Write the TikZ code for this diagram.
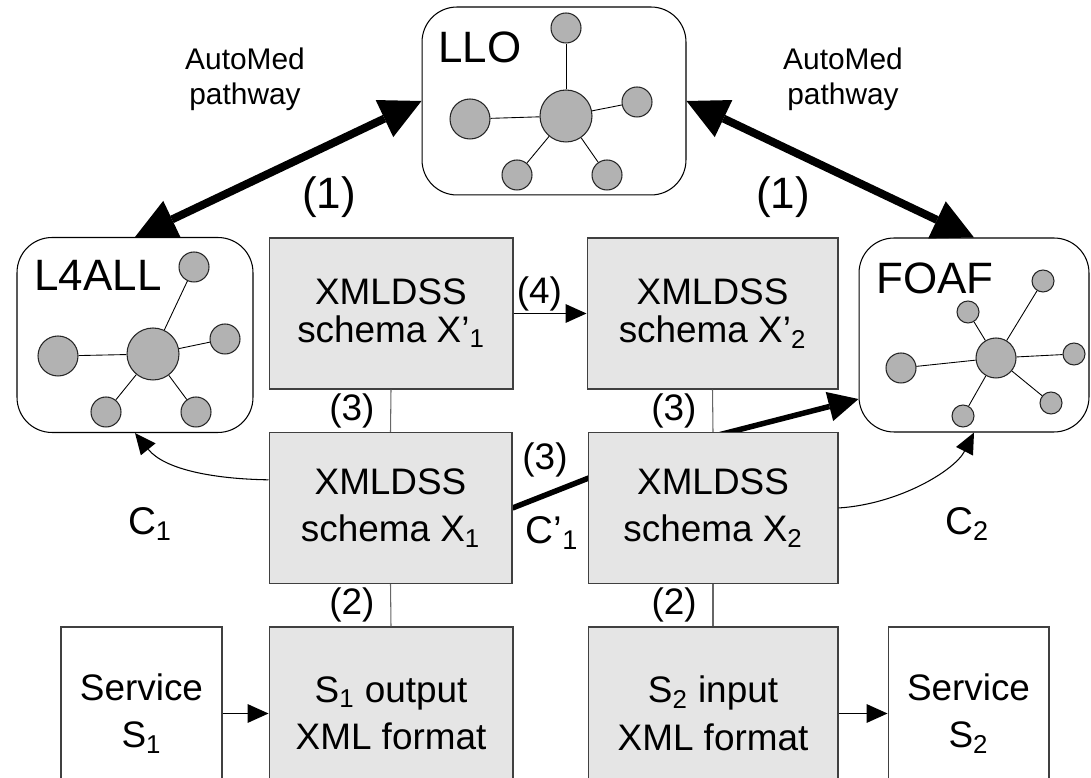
\documentclass[tikz,border=0pt]{standalone}
\usepackage{fontspec}
\setmainfont{Liberation Sans}
\usetikzlibrary{arrows.meta,backgrounds}

\begin{document}
\begin{tikzpicture}[x=0.02cm,y=0.02cm]
      \useasboundingbox (0,0) rectangle (1091,777);
      \tikzset{OntoStyle/.style = {draw, rounded corners=0.7cm, fill=white, line width=0.6pt},
               OntoLabel/.style = {inner sep=0pt, font=\fontsize{25}{30}\selectfont},
               VertexStyle/.style = {circle, draw=black!85, fill=black!30, line width=0.6pt, inner sep=0pt},
               big/.style = {VertexStyle, minimum size=1.04cm},
               mid/.style = {VertexStyle, minimum size=0.8cm},
               small/.style = {VertexStyle, minimum size=0.6cm},
               tiny/.style = {VertexStyle, minimum size=0.44cm},
               EdgeStyle/.style = {line width=0.5pt},
               SchemaStyle/.style = {draw=black!75, fill=black!10, line width=0.6pt, align=center,
                                     minimum height=3.02cm, font=\fontsize{21}{27}\selectfont},
               TopSchema/.style = {SchemaStyle, font=\fontsize{21}{21.5}\selectfont},
               FormatStyle/.style = {SchemaStyle, minimum height=3.46cm},
               ServiceStyle/.style = {FormatStyle, fill=white, minimum width=3.22cm},
               LinkStyle/.style = {draw=black!60, line width=0.6pt},
               Lab/.style = {inner sep=0pt, font=\fontsize{21}{25}\selectfont},
               PathArrow/.style = {{Triangle[length=0.82cm,width=0.82cm,line width=0pt]}-{Triangle[length=0.82cm,width=0.82cm,line width=0pt]},
                                   line width=0.16cm},
               ThickArrow/.style = {-{Triangle[length=0.6cm,width=0.6cm,line width=0pt]}, line width=0.11cm},
               ThinArrow/.style = {-{Triangle[length=0.42cm,width=0.38cm,line width=0pt]}, line width=0.6pt}}

      % Ontologies
      \node[OntoStyle, minimum width=5.28cm, minimum height=3.76cm] (llo) at (554,676) {};
      \node[OntoLabel] (llolab) at (480,730) {LLO};
      \node[OntoStyle, minimum width=4.72cm, minimum height=3.9cm] (lall) at (135,442) {};
      \node[OntoLabel] (lalllab) at (98,502) {L4ALL};
      \node[OntoStyle, minimum width=4.6cm, minimum height=3.88cm] (foaf) at (974,442) {};
      \node[OntoLabel] (foaflab) at (935,499) {FOAF};

      % Vertices
      \node[big]   (llo0) at (566,661) {};
      \node[small] (llo1) at (566,749) {};
      \node[mid]   (llo2) at (470,658) {};
      \node[small] (llo3) at (637,675) {};
      \node[small] (llo4) at (517,602) {};
      \node[small] (llo5) at (607,602) {};
      \node[big]   (lall0) at (153,423) {};
      \node[mid]   (lall1) at (58,421) {};
      \node[small] (lall2) at (194,510) {};
      \node[small] (lall3) at (225,438) {};
      \node[small] (lall4) at (106,365) {};
      \node[small] (lall5) at (196,365) {};
      \node[mid]   (foaf0) at (996,419) {};
      \node[small] (foaf1) at (901,409) {};
      \node[tiny]  (foaf2) at (968,465) {};
      \node[tiny]  (foaf3) at (1043,496) {};
      \node[tiny]  (foaf4) at (1074,423) {};
      \node[tiny]  (foaf5) at (1051,374) {};
      \node[tiny]  (foaf6) at (963,361) {};

      % Edges
      \draw[EdgeStyle] (llo0) -- (llo1);
      \draw[EdgeStyle] (llo0) -- (llo2);
      \draw[EdgeStyle] (llo0) -- (llo3);
      \draw[EdgeStyle] (llo0) -- (llo4);
      \draw[EdgeStyle] (llo0) -- (llo5);
      \draw[EdgeStyle] (lall0) -- (lall1);
      \draw[EdgeStyle] (lall0) -- (lall2);
      \draw[EdgeStyle] (lall0) -- (lall3);
      \draw[EdgeStyle] (lall0) -- (lall4);
      \draw[EdgeStyle] (lall0) -- (lall5);
      \draw[EdgeStyle] (foaf0) -- (foaf1);
      \draw[EdgeStyle] (foaf0) -- (foaf2);
      \draw[EdgeStyle] (foaf0) -- (foaf3);
      \draw[EdgeStyle] (foaf0) -- (foaf4);
      \draw[EdgeStyle] (foaf0) -- (foaf5);
      \draw[EdgeStyle] (foaf0) -- (foaf6);

      % Schemas
      \node[TopSchema, minimum width=4.88cm] (xp1) at (391,463.5) {XMLDSS\\schema X’\textsubscript{1}};
      \node[TopSchema, minimum width=5.02cm] (xp2) at (712.5,463.5) {XMLDSS\\schema X’\textsubscript{2}};
      \node[SchemaStyle, minimum width=4.86cm] (x1) at (390.5,269) {XMLDSS\\schema X\textsubscript{1}};
      \node[SchemaStyle, minimum width=5.0cm] (x2) at (713,269) {XMLDSS\\schema X\textsubscript{2}};
      \node[FormatStyle, minimum width=4.88cm] (s1out) at (391,63.5) {S\textsubscript{1} output\\XML format};
      \node[FormatStyle, minimum width=5.0cm] (s2in) at (713,63.5) {S\textsubscript{2} input\\XML format};
      \node[ServiceStyle] (serv1) at (141.5,63.5) {Service\\S\textsubscript{1}};
      \node[ServiceStyle] (serv2) at (968.5,63.5) {Service\\S\textsubscript{2}};

      % Connectors
      \draw[PathArrow] (lall.north) -- (llo.west);
      \draw[PathArrow] (llo.east) -- (foaf.north);
      \draw[LinkStyle] (xp1.south) -- node[Lab, left, inner sep=9pt] (l3a) {(3)} (x1.north);
      \draw[LinkStyle] (xp2.south) -- node[Lab, left, inner sep=9pt] (l3b) {(3)} (x2.north);
      \draw[LinkStyle] (x1.south) -- node[Lab, left, inner sep=9pt] (l2a) {(2)} (s1out.north);
      \draw[LinkStyle] (x2.south) -- node[Lab, left, inner sep=9pt] (l2b) {(2)} (s2in.north);
      \draw[ThinArrow] (xp1.east) -- node[Lab, above, inner sep=1pt, xshift=-6pt] (l4) {(4)} (xp2.west);
      \draw[ThinArrow] (serv1) -- (s1out);
      \draw[ThinArrow] (s2in) -- (serv2);
      \draw[ThinArrow] (x1.167) .. controls (215,298) and (165,307) .. (lall.south);
      \draw[ThinArrow] (x2.east) .. controls (900,273) and (955,307) .. (foaf.south);
      \coordinate (bend) at (660,327);
      \begin{pgfonlayer}{background}
        \draw[ThickArrow] (x1.east) -- (bend) -- (foaf.209);
      \end{pgfonlayer}

      % Labels
      \node[align=center, font=\fontsize{17}{19.8}\selectfont] (auto1) at (245,697.5) {AutoMed\\pathway};
      \node[align=center, font=\fontsize{17}{19.8}\selectfont] (auto2) at (843,697.5) {AutoMed\\pathway};
      \node[OntoLabel] (one1) at (329,580) {(1)};
      \node[OntoLabel] (one2) at (783,580) {(1)};
      \node[Lab] (three) at (545,317) {(3)};
      \node[Lab, font=\fontsize{22}{26}\selectfont] (c1) at (150,253) {C\textsubscript{1}};
      \node[Lab, font=\fontsize{22}{26}\selectfont] (c2) at (967,253) {C\textsubscript{2}};
      \node[Lab, font=\fontsize{22}{26}\selectfont] (cp1) at (552,244) {C’\textsubscript{1}};
\end{tikzpicture}
\end{document}
